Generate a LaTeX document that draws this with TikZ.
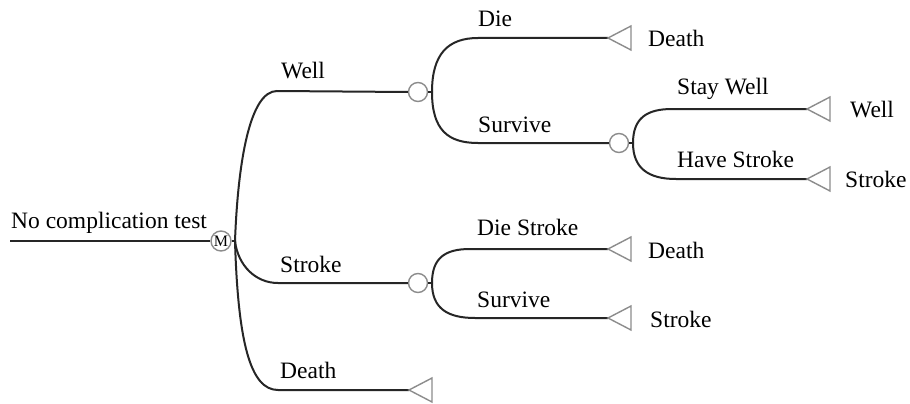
\documentclass[tikz,border=0pt]{standalone}
\usepackage{fontspec}
\setmainfont{Liberation Serif}
\begin{document}
\begin{tikzpicture}[x=1pt,y=-1pt,
  br/.style={draw=black!85, line width=2pt},
  chance/.style={circle, draw=black!45, line width=1.4pt, minimum size=19pt, inner sep=0pt},
  term/.style={draw=black!45, line width=1.4pt, line join=miter},
  lab/.style={anchor=base west, inner sep=0pt, font=\fontsize{23.5}{27}\selectfont}]
\useasboundingbox (0,0) rectangle (910,404);
\fill[white] (0,0) rectangle (910,404);

% root and markov node
\coordinate (root) at (10,241);
\node[chance, minimum size=20pt] (mk) at (221,241) {\fontsize{16}{16}\selectfont M};
\coordinate (mks) at (235,241);
\draw[br] (root) -- (mk.west);
\draw[br] (mk.east) -- (mks);
\node[lab] (tRoot) at (11,228) {No complication test};

% first-level branch coordinates
\coordinate (wellS) at (277,91);
\node[chance] (c1) at (418,92) {};
\coordinate (c1s) at (432,92);
\coordinate (strS) at (278,283);
\node[chance] (c3) at (418,283) {};
\coordinate (c3s) at (432,283);
\coordinate (deaS) at (278,390);
\coordinate (deaT) at (409,390);

\draw[br] (mks) .. controls +(3,-80) and +(-27,0) .. (wellS) -- (c1.west);
\draw[br] (mks) .. controls +(3,25) and +(-22,0) .. (strS) -- (c3.west);
\draw[br] (mks) .. controls +(3,100) and +(-28,0) .. (deaS) -- (deaT);
\draw[term] (deaT) -- ++(23,-12) -- ++(0,24) -- cycle;
\draw[br] (c1.east) -- (c1s);
\draw[br] (c3.east) -- (c3s);
\node[lab] (lWell) at (281,78) {Well};
\node[lab] (lStroke) at (280,272) {Stroke};
\node[lab] (lDeath) at (280,378) {Death};

% Well subtree
\coordinate (dieS) at (478,38);
\coordinate (dieT) at (608,38);
\coordinate (surS) at (478,143);
\node[chance] (c2) at (619,143) {};
\coordinate (c2s) at (633,143);
\draw[br] (c1s) .. controls +(0,-38) and +(-30,0) .. (dieS) -- (dieT);
\draw[term] (dieT) -- ++(23,-12) -- ++(0,24) -- cycle;
\draw[br] (c1s) .. controls +(0,38) and +(-30,0) .. (surS) -- (c2.west);
\draw[br] (c2.east) -- (c2s);
\node[lab] (lDie) at (478,27) {Die};
\node[lab] (lSur1) at (478,132) {Survive};
\node[lab] (tDeath1) at (648,47) {Death};

% Survive subtree
\coordinate (swS) at (672,109);
\coordinate (swT) at (807,109);
\coordinate (hsS) at (676,179);
\coordinate (hsT) at (807,179);
\draw[br] (c2s) .. controls +(0,-25) and +(-25,0) .. (swS) -- (swT);
\draw[br] (c2s) .. controls +(0,25) and +(-28,0) .. (hsS) -- (hsT);
\draw[term] (swT) -- ++(23,-12) -- ++(0,24) -- cycle;
\draw[term] (hsT) -- ++(23,-12) -- ++(0,24) -- cycle;
\node[lab] (lSW) at (677,95) {Stay Well};
\node[lab] (lHS) at (677,167) {Have Stroke};
\node[lab] (tWell) at (850,117) {Well};
\node[lab] (tStroke1) at (845,187) {Stroke};

% Stroke subtree
\coordinate (dsS) at (470,249);
\coordinate (dsT) at (608,249);
\coordinate (sv2S) at (475,318);
\coordinate (sv2T) at (608,318);
\draw[br] (c3s) .. controls +(0,-25) and +(-25,0) .. (dsS) -- (dsT);
\draw[br] (c3s) .. controls +(0,25) and +(-28,0) .. (sv2S) -- (sv2T);
\draw[term] (dsT) -- ++(23,-12) -- ++(0,24) -- cycle;
\draw[term] (sv2T) -- ++(23,-12) -- ++(0,24) -- cycle;
\node[lab] (lDS) at (477,235) {Die Stroke};
\node[lab] (lSur2) at (477,307) {Survive};
\node[lab] (tDeath2) at (648,258) {Death};
\node[lab] (tStroke2) at (650,327) {Stroke};
\end{tikzpicture}
\end{document}
